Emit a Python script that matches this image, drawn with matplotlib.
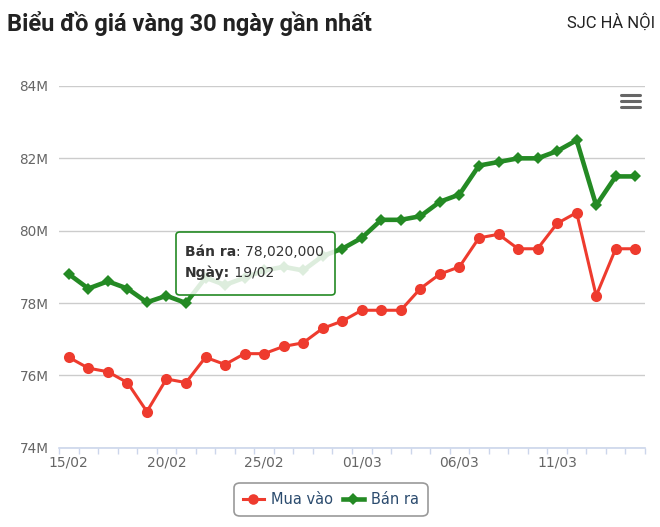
import matplotlib
matplotlib.use("Agg")
import matplotlib.pyplot as plt
from matplotlib.lines import Line2D
from matplotlib.patches import FancyBboxPatch
from matplotlib.text import Annotation
from matplotlib.ticker import FixedLocator, NullFormatter

# ---------------- data ----------------
dates = ["15/02", "16/02", "17/02", "18/02", "19/02", "20/02", "21/02", "22/02",
         "23/02", "24/02", "25/02", "26/02", "27/02", "28/02", "29/02", "01/03",
         "02/03", "03/03", "04/03", "05/03", "06/03", "07/03", "08/03", "09/03",
         "10/03", "11/03", "12/03", "13/03", "14/03", "15/03"]
mua_vao = [76.5, 76.2, 76.1, 75.8, 75.0, 75.9, 75.8, 76.5, 76.3, 76.6,
           76.6, 76.8, 76.9, 77.3, 77.5, 77.8, 77.8, 77.8, 78.4, 78.8,
           79.0, 79.8, 79.9, 79.5, 79.5, 80.2, 80.5, 78.2, 79.5, 79.5]
ban_ra = [78.8, 78.4, 78.6, 78.4, 78.02, 78.2, 78.0, 78.7, 78.5, 78.7,
          78.9, 79.0, 78.9, 79.3, 79.5, 79.8, 80.3, 80.3, 80.4, 80.8,
          81.0, 81.8, 81.9, 82.0, 82.0, 82.2, 82.5, 80.7, 81.5, 81.5]
y_ticks = [74, 76, 78, 80, 82, 84]
label_every = 5
series_names = ["Mua vào", "Bán ra"]
title = "Biểu đồ giá vàng 30 ngày gần nhất"
subtitle = "SJC HÀ NỘI"
tip_index = 4

# ---------------- layout ----------------
W, H = 660, 527
fig = plt.figure(figsize=(W / 100, H / 100), dpi=100)
def fx(px): return px / W
def fy(py): return 1 - py / H

L, R, T, B = 59, 645, 86, 447.7
ax = fig.add_axes([fx(L), fy(B), fx(R) - fx(L), fy(T) - fy(B)])

RED = "#ee3b2e"
GREEN = "#248a24"
x = list(range(len(dates)))

ax.plot(x, mua_vao, color=RED, lw=2.2, marker="o", ms=8, mew=0, zorder=4,
        label=series_names[0], solid_joinstyle="round")
ax.plot(x, ban_ra, color=GREEN, lw=3.3, marker="D", ms=6.5, mew=0, zorder=5,
        label=series_names[1], solid_joinstyle="round")

ax.set_xlim(-0.5, len(dates) - 0.5)
ax.set_ylim(y_ticks[0], y_ticks[-1])
ax.set_yticks(y_ticks)
ax.set_yticklabels([f"{v}M" for v in y_ticks])
ax.grid(axis="y", color="#cccccc", lw=1.0)
ax.set_axisbelow(True)

ax.xaxis.set_major_locator(FixedLocator(x[::label_every]))
ax.set_xticklabels(dates[::label_every])
ax.xaxis.set_minor_locator(FixedLocator([i - 0.5 for i in range(len(dates) + 1)]))
ax.xaxis.set_minor_formatter(NullFormatter())
ax.tick_params(axis="x", which="major", length=0, pad=5.5, labelsize=10,
               labelcolor="#666666")
ax.tick_params(axis="x", which="minor", length=4, width=1, color="#ccd6eb")
ax.tick_params(axis="y", length=0, pad=7.5, labelsize=9.8, labelcolor="#666666")

for s in ["top", "right", "left"]:
    ax.spines[s].set_visible(False)
ax.spines["bottom"].set_color("#ccd6eb")
ax.spines["bottom"].set_linewidth(1.2)

# ---------------- legend ----------------
leg = ax.legend(loc="center", bbox_to_anchor=(fx(331), fy(499.5)),
                bbox_transform=fig.transFigure, ncol=2, fontsize=10.5,
                handlelength=1.4, handletextpad=0.5, columnspacing=0.7,
                borderpad=0.65, frameon=True, fancybox=True, framealpha=1,
                edgecolor="#999999", markerscale=0.95)
leg.get_frame().set_linewidth(1.2)
leg.get_frame().set_boxstyle("round,pad=0,rounding_size=0.4")
for t in leg.get_texts():
    t.set_color("#2b4b6e")

# ---------------- titles ----------------
fig.text(fx(7), fy(24), title, fontsize=17, fontweight="bold",
         family="Roboto", color="#222222", va="center", ha="left")
fig.text(fx(655), fy(22), subtitle, fontsize=12, family="Roboto",
         color="#222222", va="center", ha="right")

# hamburger menu icon
for yy in (94.5, 100.5, 106.5):
    fig.add_artist(Line2D([fx(621), fx(640)], [fy(yy), fy(yy)], color="#666666",
                          lw=2.2, solid_capstyle="round"))

# ---------------- tooltip ----------------
box = dict(boxstyle="round,pad=0,rounding_size=0.006", transform=fig.transFigure)
tb = FancyBboxPatch((fx(176), fy(295)), fx(335) - fx(176), fy(232) - fy(295),
                    facecolor="white", alpha=0.85, edgecolor="none", zorder=10, **box)
fig.add_artist(tb)
tbe = FancyBboxPatch((fx(176), fy(295)), fx(335) - fx(176), fy(232) - fy(295),
                     facecolor="none", edgecolor=GREEN, lw=1.2, zorder=11, **box)
fig.add_artist(tbe)
t1 = fig.text(fx(185), fy(256), series_names[1], fontsize=10, fontweight="bold",
              color="#333333", va="baseline", ha="left", zorder=12)
a1 = Annotation(f": {int(round(ban_ra[tip_index] * 1e6)):,}", xy=(1, 0),
                xycoords=t1, fontsize=10, color="#333333", va="bottom",
                ha="left", zorder=12)
fig.add_artist(a1)
t2 = fig.text(fx(185), fy(277), "Ngày:", fontsize=10, fontweight="bold",
              color="#333333", va="baseline", ha="left", zorder=12)
a2 = Annotation(f" {dates[tip_index]}", xy=(1, 0), xycoords=t2, fontsize=10,
                color="#333333", va="bottom", ha="left", zorder=12)
fig.add_artist(a2)

fig.savefig("out.png", dpi=100)
